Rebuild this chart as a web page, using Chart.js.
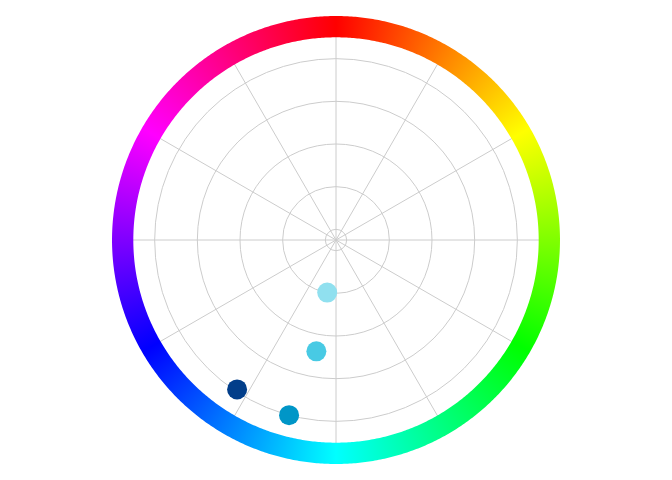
<!DOCTYPE html>
<html>
<head>
<meta charset="utf-8">
<script src="https://cdn.jsdelivr.net/npm/chart.js@4"></script>
<style>
	body { margin: 0; background: #fff; }
	#wrap { width: 672px; height: 480px; }
</style>
</head>
<body>
<div id="wrap"><canvas id="wheel"></canvas></div>
<script>
'use strict'

// hue (degrees, clockwise from top) and saturation of each colour
const names = ['#90E0EF', '#48CAE4', '#023E8A', '#0096C7'];
const hues = [189.5, 190, 213.5, 194.8];
const saturation = [0.40, 0.68, 0.99, 1.00];

const gridBreaks = [0.2, 0.4, 0.6, 0.8, 1.0];
const rMin = 0.15;
const rMax = 1.2;
const ringBand = [1.1, 1.2];

const steps = 720; // half degree per step
const labels = [];
for (let i = 0; i < steps; i++) labels.push(String(i / 2));

const ringValue = (ringBand[0] + ringBand[1]) / 2;

let datasets = names.map((c, k) => {
	const data = new Array(steps).fill(null);
	data[Math.round(hues[k] * steps / 360) % steps] = saturation[k];
	return {
		data: data,
		showLine: false,
		pointRadius: 10,
		pointBorderWidth: 0,
		pointBackgroundColor: c,
		clip: false,
	};
});

// hue wheel drawn as a closed radar line with a conic gradient stroke
function hueGradient(ctx) {
	const chart = ctx.chart;
	const scale = chart.scales.r;
	if (!scale || scale.xCenter === undefined) return 'red';
	const g = chart.ctx.createConicGradient(-Math.PI / 2, scale.xCenter, scale.yCenter);
	for (let h = 0; h <= 360; h += 10) {
		g.addColorStop(h / 360, 'hsl(' + h + ',100%,50%)');
	}
	return g;
}

datasets.push({
	data: new Array(steps).fill(ringValue),
	pointRadius: 0,
	borderWidth: 21.3,
	fill: false,
	tension: 0,
	clip: false,
	borderColor: hueGradient,
});

new Chart(document.getElementById('wheel'), {
	type: 'radar',
	data: { labels: labels, datasets: datasets },
	options: {
		responsive: true,
		maintainAspectRatio: false,
		animation: false,
		events: [],
		layout: { padding: { top: 16, bottom: 16 } },
		plugins: {
			legend: { display: false },
			tooltip: { enabled: false },
		},
		scales: {
			r: {
				min: rMin,
				max: rMax,
				afterBuildTicks: (axis) => {
					axis.ticks = [rMin].concat(gridBreaks).map((v) => ({ value: v }));
				},
				ticks: { display: false },
				pointLabels: { display: false },
				grid: { circular: true, color: '#cccccc', lineWidth: 1 },
				angleLines: {
					display: true,
					color: (ctx) => ctx.index % (steps / 12) === 0 ? '#cccccc' : 'rgba(0,0,0,0)',
					lineWidth: (ctx) => ctx.index % (steps / 12) === 0 ? 1 : 0,
				},
			},
		},
	},
});
</script>
</body>
</html>
